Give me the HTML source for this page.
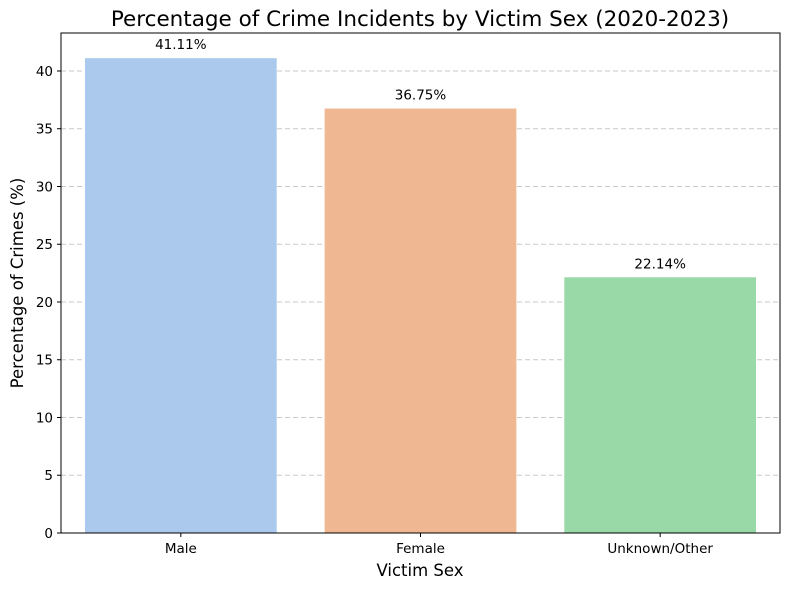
<!DOCTYPE html>
<html><head><meta charset="utf-8"><style>
body{margin:0;background:#fff;font-family:"Liberation Sans","DejaVu Sans",sans-serif}
</style></head><body>
<svg id="chart" width="790" height="590" xmlns="http://www.w3.org/2000/svg" font-family="DejaVu Sans, Liberation Sans, sans-serif">
<rect width="790" height="590" fill="#fff"/>
<text x="420" y="26" font-size="21.5" text-anchor="middle" fill="#000">Percentage of Crime Incidents by Victim Sex (2020-2023)</text>
<g id="grid"></g><g id="bars"></g><g id="axes"></g>
<text x="420" y="576" font-size="16.5" text-anchor="middle">Victim Sex</text>
<text transform="translate(23,283) rotate(-90)" font-size="16.5" text-anchor="middle">Percentage of Crimes (%)</text>
</svg>
<script>
const categories=["Male","Female","Unknown/Other"];
const values=[41.11,36.75,22.14];
const valueLabels=["41.11%","36.75%","22.14%"];
const colors=["#abc9ec","#f0b892","#99d8a7"];
const yTicks=[0,5,10,15,20,25,30,35,40];
const L=61,R=780,T=33,B=533,ymax=Math.max(...values)*1.053;
const ns="http://www.w3.org/2000/svg";
const y=v=>B-(B-T)*v/ymax;
const bw=(R-L)/categories.length;
const x=i=>L+bw*(i+0.5);
function mk(t,a,p,txt){const e=document.createElementNS(ns,t);for(const k in a)e.setAttribute(k,a[k]);if(txt!=null)e.textContent=txt;p.appendChild(e);return e;}
const g=document.getElementById("grid"),b=document.getElementById("bars"),ax=document.getElementById("axes");
yTicks.forEach(t=>{
 if(t>0){const l=mk("line",{x1:L,x2:R,y1:y(t),y2:y(t),stroke:"#c8c8c8","stroke-dasharray":"5,3","stroke-width":1},g);
 
 }
 const tk=mk("line",{x1:L-4,x2:L,y1:y(t),y2:y(t),stroke:"#000"},ax);
 
 
 const tl=mk("text",{x:L-8,y:y(t)+4.8,"font-size":13.5,"text-anchor":"end"},ax,String(t));
 
 
});
values.forEach((v,i)=>{
 const w=bw*0.8;
 const r=mk("rect",{x:x(i)-w/2,y:y(v),width:w,height:B-y(v),fill:colors[i]},b);
 
 
 const vl=mk("text",{x:x(i),y:y(v)-9,"font-size":13.5,"text-anchor":"middle"},b,valueLabels[i]);
 
 
 const tk=mk("line",{x1:x(i),x2:x(i),y1:B,y2:B+4,stroke:"#000"},ax);
 
 
 const xl=mk("text",{x:x(i),y:B+20,"font-size":13.5,"text-anchor":"middle"},ax,categories[i]);
 
 
});
const fr=mk("rect",{x:L,y:T,width:R-L,height:B-T,fill:"none",stroke:"#000","stroke-width":1},ax);


</script>
</body></html>
